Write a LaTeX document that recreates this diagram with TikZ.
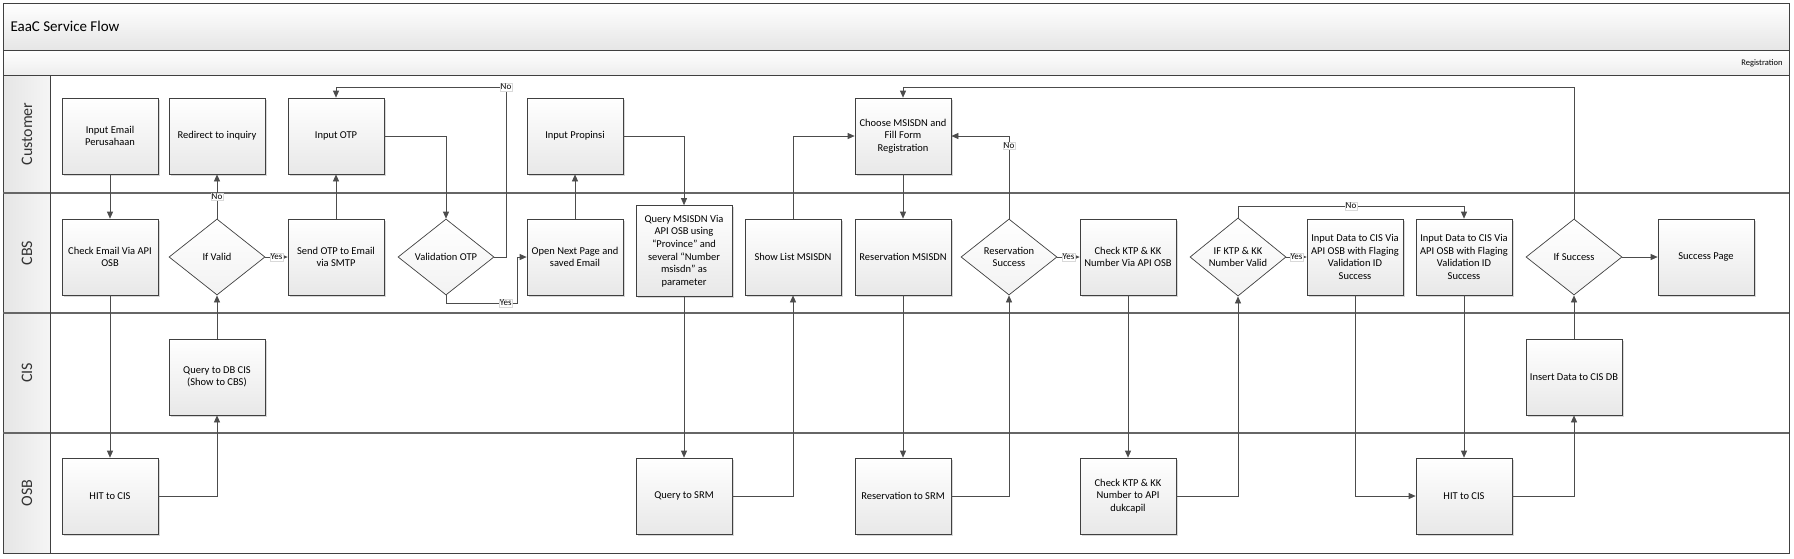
\documentclass[tikz,border=0pt]{standalone}
\usepackage{fontspec}
\setmainfont{Carlito}
\usetikzlibrary{arrows.meta,shapes.geometric,shadows}

\begin{document}
\begin{tikzpicture}[x=1pt,y=-1pt,
  font=\fontsize{10.5}{12.6}\selectfont,
  proc/.style={rectangle,draw=black!75,line width=0.7pt,top color=white,bottom color=black!9,
    minimum width=96pt,minimum height=76pt,align=center,inner sep=1pt,
    drop shadow={shadow xshift=1.5pt,shadow yshift=-1.5pt,fill=black!30,opacity=0.5}},
  decide/.style={diamond,draw=black!75,line width=0.7pt,top color=white,bottom color=black!5,
    minimum width=96pt,minimum height=76pt,align=center,inner sep=0pt},
  flow/.style={draw=black!70,line width=0.7pt,-{Triangle[length=7pt,width=6pt]}},
  lbl/.style={fill=white,draw=black!15,line width=0.3pt,inner sep=0.8pt,font=\fontsize{9}{10}\selectfont},
  lane/.style={rotate=90,font=\fontsize{16}{18}\selectfont,text=black!80}]
  \useasboundingbox (0,0) rectangle (1794,558);
  \pgfmathsetmacro\yC{136}
  \pgfmathsetmacro\yB{257}
  \pgfmathsetmacro\yD{377}
  \pgfmathsetmacro\yO{496}
  \shade[top color=white,bottom color=black!10] (3,3) rectangle (1789,50);
  \shade[top color=white,bottom color=black!7] (3,50) rectangle (1789,75);
  \shade[left color=black!10,right color=black!4] (3,75) rectangle (50,553);
  \draw[black!75,line width=1pt] (3,3) rectangle (1789,553);
  \draw[black!75,line width=1pt] (3,50) -- (1789,50) (3,75) -- (1789,75);
  \draw[black!60,line width=1.4pt] (3,193) -- (1789,193) (3,313) -- (1789,313) (3,433) -- (1789,433);
  \draw[black!75,line width=0.8pt] (50,75) -- (50,553);
  \node[anchor=west,font=\fontsize{15}{18}\selectfont] (title) at (7,26) {EaaC Service Flow};
  \node[anchor=east,font=\fontsize{8.5}{10}\selectfont] (phase) at (1786,63) {Registration};
  \node[lane] (lcust) at (27,134) {Customer};
  \node[lane] (lcbs) at (27,253) {CBS};
  \node[lane] (lcis) at (27,373) {CIS};
  \node[lane] (losb) at (27,493) {OSB};

  \node[proc] (email) at (110,\yC) {Input Email\\Perusahaan};
  \node[proc] (redir) at (217,\yC) {Redirect to inquiry};
  \node[proc] (otp) at (336,\yC) {Input OTP};
  \node[proc] (prop) at (575,\yC) {Input Propinsi};
  \node[proc] (choose) at (903,\yC) {Choose MSISDN and\\Fill Form\\Registration};

  \node[proc] (chkmail) at (110,\yB) {Check Email Via API\\OSB};
  \node[decide] (valid) at (217,\yB) {If Valid};
  \node[proc] (sendotp) at (336,\yB) {Send OTP to Email\\via SMTP};
  \node[decide] (valotp) at (446,\yB) {Validation OTP};
  \node[proc] (nextpg) at (575,\yB) {Open Next Page and\\saved Email};
  \node[proc,minimum height=91pt] (qmsisdn) at (684,251) {Query MSISDN Via\\API OSB using\\“Province” and\\several “Number\\msisdn” as\\parameter};
  \node[proc] (showlist) at (793,\yB) {Show List MSISDN};
  \node[proc] (resv) at (903,\yB) {Reservation MSISDN};
  \node[decide] (resok) at (1009,\yB) {Reservation\\Success};
  \node[proc] (chkktp) at (1128,\yB) {Check KTP \& KK\\Number Via API OSB};
  \node[decide] (ktpok) at (1238,\yB) {IF KTP \& KK\\Number Valid};
  \node[proc] (inputA) at (1355,\yB) {Input Data to CIS Via\\API OSB with Flaging\\Validation ID\\Success};
  \node[proc] (inputB) at (1464,\yB) {Input Data to CIS Via\\API OSB with Flaging\\Validation ID\\Success};
  \node[decide] (succok) at (1574,\yB) {If Success};
  \node[proc] (succpg) at (1706,\yB) {Success Page};

  \node[proc] (qdb) at (217,\yD) {Query to DB CIS\\(Show to CBS)};
  \node[proc] (insdb) at (1574,\yD) {Insert Data to CIS DB};

  \node[proc] (hitA) at (110,\yO) {HIT to CIS};
  \node[proc] (qsrm) at (684,\yO) {Query to SRM};
  \node[proc] (rsrm) at (903,\yO) {Reservation to SRM};
  \node[proc] (duk) at (1128,\yO) {Check KTP \& KK\\Number to API\\dukcapil};
  \node[proc] (hitB) at (1464,\yO) {HIT to CIS};

  \coordinate (c1) at (506,87);
  \coordinate (c2) at (517,303);
  \coordinate (c3) at (1238,206);
  \coordinate (c4) at (1574,87);

  \draw[flow] (email) -- (chkmail);
  \draw[flow] (chkmail) -- (hitA);
  \draw[flow] (hitA) -| (qdb);
  \draw[flow] (qdb) -- (valid);
  \draw[flow] (valid) -- node[lbl] (n1) {No} (redir);
  \draw[flow] (valid) -- node[lbl] (y1) {Yes} (sendotp);
  \draw[flow] (sendotp) -- (otp);
  \draw[flow] (otp) -| (valotp);
  \draw[flow] (valotp.east) -| (c1) -| (otp.north);
  \node[lbl] (n2) at (c1) {No};
  \draw[flow] (valotp.south) |- node[lbl,pos=0.92] (y2) {Yes} (c2) |- (nextpg.west);
  \draw[flow] (nextpg) -- (prop);
  \draw[flow] (prop) -| (qmsisdn);
  \draw[flow] (qmsisdn) -- (qsrm);
  \draw[flow] (qsrm) -| (showlist);
  \draw[flow] (showlist) |- (choose);
  \draw[flow] (choose) -- (resv);
  \draw[flow] (resv) -- (rsrm);
  \draw[flow] (rsrm) -| (resok);
  \draw[flow] (resok) |- node[lbl,pos=0.44] (n3) {No} (choose);
  \draw[flow] (resok) -- node[lbl] (y3) {Yes} (chkktp);
  \draw[flow] (chkktp) -- (duk);
  \draw[flow] (duk) -| (ktpok);
  \draw[flow] (ktpok) -- node[lbl] (y4) {Yes} (inputA);
  \draw[flow] (ktpok.north) -- (c3) -| node[lbl,pos=0.25] (n4) {No} (inputB.north);
  \draw[flow] (inputA) |- (hitB);
  \draw[flow] (inputB) -- (hitB);
  \draw[flow] (hitB) -| (insdb);
  \draw[flow] (insdb) -- (succok);
  \draw[flow] (succok.north) -- (c4) -| (choose.north);
  \draw[flow] (succok) -- (succpg);
\end{tikzpicture}
\end{document}
